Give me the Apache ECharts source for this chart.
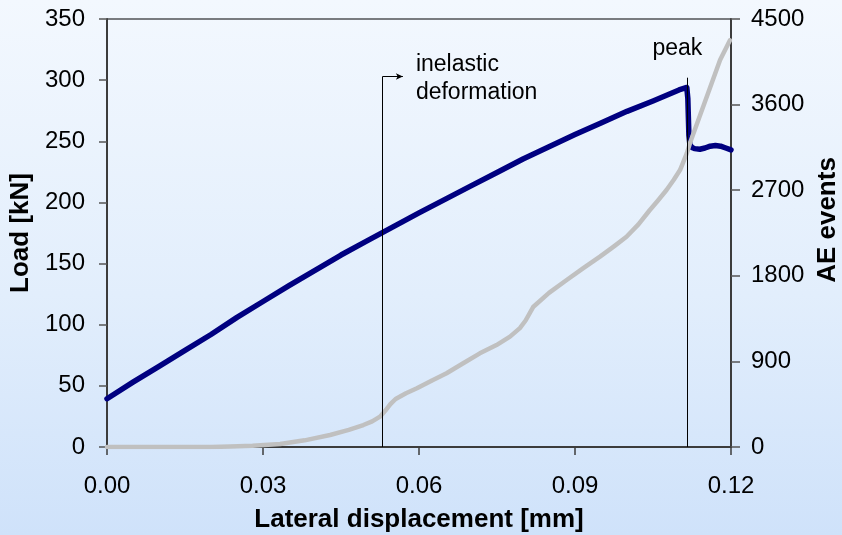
<!DOCTYPE html>
<html>
<head>
<meta charset="utf-8">
<script src="https://cdn.jsdelivr.net/npm/echarts@6/dist/echarts.min.js"></script>
<style>
  html, body { margin: 0; padding: 0; }
  #chart {
    width: 842px; height: 535px;
    background: linear-gradient(to bottom, #f3f8fe 0%, #e2eefc 55%, #cfe2fa 100%);
  }
</style>
</head>
<body>
<div id="chart"></div>
<script>
// Lateral displacement [mm] / load [kN]
var loadDisp = [0, 0.005, 0.01, 0.015, 0.02, 0.025, 0.03, 0.035, 0.04, 0.045, 0.05, 0.055,
  0.06, 0.065, 0.07, 0.075, 0.08, 0.085, 0.09, 0.095, 0.1, 0.105, 0.11, 0.1115,
  0.1117, 0.1118, 0.1119, 0.1121, 0.1125, 0.113, 0.114, 0.115, 0.116, 0.117, 0.118, 0.119, 0.12];
var loadValues = [39.5, 53, 66, 79, 92, 106, 119, 132, 144.5, 157, 168.5, 180,
  191.5, 202.5, 213.5, 224.5, 235.5, 245.5, 255.5, 265, 274.5, 283, 292, 294,
  285, 270, 255, 247, 245, 244, 243.5, 244.5, 246, 246.5, 246, 244.5, 243];

// Lateral displacement [mm] / cumulative AE events
var aeDisp = [0, 0.01, 0.02, 0.0237, 0.028, 0.0333, 0.038, 0.0429, 0.0465, 0.0493, 0.051, 0.0525,
  0.0535, 0.0545, 0.0555, 0.0575, 0.0596, 0.0625, 0.0653, 0.0685, 0.0717, 0.0749, 0.0775, 0.0794,
  0.0805, 0.082, 0.085, 0.0884, 0.0916, 0.0948, 0.0975, 0.0999, 0.1022, 0.1044, 0.106, 0.1076,
  0.109, 0.1102, 0.1115, 0.1121, 0.1179, 0.1198];
var aeValues = [0, 0, 0, 5, 12, 31, 70, 126, 180, 231, 270, 319,
  380, 450, 505, 565, 617, 700, 775, 880, 985, 1072, 1160, 1250,
  1330, 1475, 1620, 1756, 1880, 2001, 2110, 2211, 2340, 2492, 2595, 2702,
  2810, 2912, 3088, 3193, 4069, 4276];

// Marker positions on the displacement axis
var inelasticAt = 0.053;
var peakAt = 0.1116;

var FONT = '"Liberation Sans", Arial, sans-serif';

function pairs(xs, ys) {
  return xs.map(function (x, i) { return [x, ys[i]]; });
}

var chart = echarts.init(document.getElementById('chart'), null, { renderer: 'canvas' });

var axisLineStyle = { color: '#3c3c3c', width: 2 };

chart.setOption({
  animation: false,
  backgroundColor: 'transparent',
  grid: {
    left: 107, right: 111, top: 19, bottom: 88,
    outerBoundsMode: 'none', containLabel: false,
    show: true, borderColor: '#000', borderWidth: 1, backgroundColor: 'transparent'
  },
  xAxis: {
    type: 'value', min: 0, max: 0.12, interval: 0.03,
    name: 'Lateral displacement [mm]', nameLocation: 'middle', nameGap: 60,
    nameTextStyle: { fontFamily: FONT, fontWeight: 'bold', fontSize: 26, color: '#000' },
    axisLine: { show: true, lineStyle: axisLineStyle },
    axisTick: { show: true, inside: false, length: 8, lineStyle: { color: '#3c3c3c', width: 1.5 } },
    axisLabel: {
      margin: 27, fontFamily: FONT, fontSize: 24, color: '#000',
      formatter: function (v) { return v.toFixed(2); }
    },
    splitLine: { show: false }
  },
  yAxis: [{
    type: 'value', min: 0, max: 350, interval: 50, position: 'left',
    name: 'Load [kN]', nameLocation: 'middle', nameGap: 72,
    nameTextStyle: { fontFamily: FONT, fontWeight: 'bold', fontSize: 26, color: '#000' },
    axisLine: { show: true, lineStyle: axisLineStyle },
    axisTick: { show: true, inside: false, length: 8, lineStyle: { color: '#555', width: 1.5 } },
    axisLabel: { margin: 22, fontFamily: FONT, fontSize: 24, color: '#000',
      formatter: function (v) { return String(v); } },
    splitLine: { show: false }
  }, {
    type: 'value', min: 0, max: 4500, interval: 900, position: 'right',
    name: 'AE events', nameLocation: 'middle', nameGap: 84,
    nameTextStyle: { fontFamily: FONT, fontWeight: 'bold', fontSize: 26, color: '#000',
      padding: [0, 0, 0, 26] },
    axisLine: { show: true, lineStyle: axisLineStyle },
    axisTick: { show: true, inside: false, length: 9, lineStyle: { color: '#555', width: 1.5 } },
    axisLabel: { margin: 20, fontFamily: FONT, fontSize: 24, color: '#000',
      formatter: function (v) { return String(v); } },
    splitLine: { show: false }
  }],
  series: [{
    name: 'Load', type: 'line', yAxisIndex: 0,
    data: pairs(loadDisp, loadValues),
    showSymbol: false, symbol: 'none',
    lineStyle: { color: '#000080', width: 5.5, join: 'round', cap: 'round' },
    z: 3,
    markLine: {
      silent: true, symbol: ['none', 'none'], animation: false,
      label: { show: false },
      lineStyle: { color: '#000', width: 1, type: 'solid' },
      emphasis: { disabled: true },
      data: [
        [{ coord: [inelasticAt, 0] }, { coord: [inelasticAt, 303] }],
        [{ coord: [inelasticAt, 303] }, { coord: [0.0569, 303], symbol: 'arrow', symbolSize: [5, 7] }],
        [{ coord: [peakAt, 0] }, { coord: [peakAt, 302] }]
      ]
    }
  }, {
    name: 'AE events', type: 'line', yAxisIndex: 1,
    data: pairs(aeDisp, aeValues),
    showSymbol: false, symbol: 'none',
    lineStyle: { color: '#c0c0c0', width: 4.5, join: 'round', cap: 'round' },
    z: 4
  }]
});

// Text notes anchored in data coordinates
var notes = [
  { text: 'inelastic', at: [0.0594, 313] },
  { text: 'deformation', at: [0.0594, 290] },
  { text: 'peak', at: [0.1049, 326] }
];
chart.setOption({
  graphic: notes.map(function (n) {
    var p = chart.convertToPixel({ xAxisIndex: 0, yAxisIndex: 0 }, n.at);
    return {
      type: 'text', x: p[0], y: p[1], z: 10, silent: true,
      style: { text: n.text, fontFamily: FONT, fontSize: 23, fill: '#000',
               textAlign: 'left', textVerticalAlign: 'middle' }
    };
  })
});
</script>
</body>
</html>
